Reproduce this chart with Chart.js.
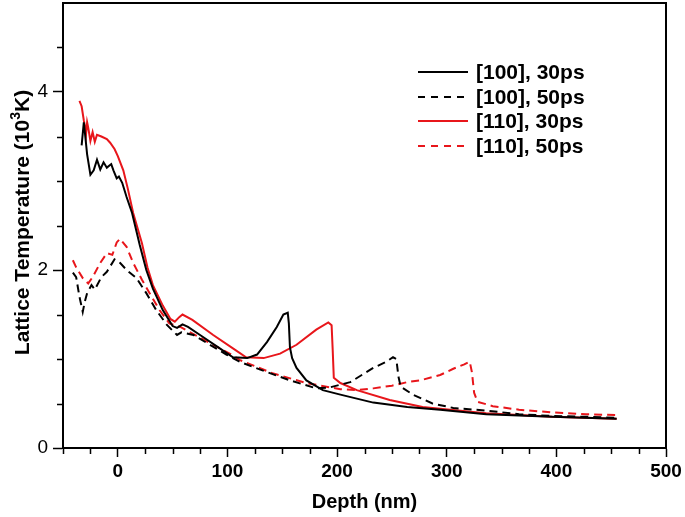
<!DOCTYPE html>
<html>
<head>
<meta charset="utf-8">
<script src="https://cdn.jsdelivr.net/npm/chart.js@4.4.1/dist/chart.umd.min.js"></script>
<style>
html,body{margin:0;padding:0;background:#fff;}
#c{display:block;}
</style>
</head>
<body>
<canvas id="c" width="685" height="517"></canvas>
<script>
// ---- data ----
const seriesLabels = ['[100], 30ps', '[100], 50ps', '[110], 30ps', '[110], 50ps'];

const depth100_30 = [-33,-31,-28,-25,-22,-19,-16,-13,-10,-6,-4,-1,1,4,8,13,20,26,32,41,50,54,59,64,75,93,105,118,127,136,145,151,155,156,157,159,163,172,187,203,233,264,294,336,396,455];
const temp100_30  = [3.40,3.66,3.30,3.07,3.12,3.24,3.13,3.21,3.15,3.19,3.12,3.03,3.05,2.98,2.82,2.64,2.28,2.00,1.79,1.55,1.37,1.35,1.39,1.36,1.27,1.12,1.02,1.01,1.05,1.19,1.36,1.50,1.52,1.40,1.13,1.01,0.90,0.76,0.65,0.60,0.51,0.46,0.43,0.38,0.35,0.33];

const depth100_50 = [-41,-38,-35,-32,-30,-28,-24,-21,-15,-10,-3,2,8,17,26,35,45,54,58,69,84,99,111,130,157,181,193,212,233,245,251,254,256,258,269,287,306,336,366,396,430,455];
const temp100_50  = [1.97,1.92,1.70,1.53,1.65,1.74,1.83,1.78,1.92,1.98,2.12,2.08,2.00,1.91,1.74,1.55,1.38,1.27,1.30,1.27,1.16,1.05,0.97,0.88,0.76,0.67,0.68,0.74,0.90,0.97,1.02,1.00,0.80,0.69,0.60,0.50,0.45,0.42,0.38,0.36,0.35,0.34];

const depth110_30 = [-35,-33,-31,-30,-29,-28,-27,-25,-23,-21,-19,-15,-10,-7,-3,0,5,9,14,22,27,32,41,48,52,56,59,68,87,105,117,133,148,163,181,192,195,196,197,203,218,248,278,294,336,396,455];
const temp110_30  = [3.90,3.84,3.68,3.62,3.52,3.66,3.60,3.45,3.55,3.44,3.52,3.50,3.47,3.43,3.36,3.28,3.12,2.92,2.64,2.30,2.03,1.83,1.60,1.45,1.42,1.47,1.50,1.44,1.27,1.12,1.02,1.01,1.06,1.16,1.33,1.41,1.38,1.10,0.79,0.73,0.65,0.54,0.46,0.44,0.39,0.35,0.33];

const depth110_50 = [-41,-38,-32,-27,-23,-16,-10,-5,-1,2,8,14,22,29,38,47,57,75,90,105,111,141,172,203,218,233,250,264,276,294,306,316,321,323,325,328,342,366,396,427,455];
const temp110_50  = [2.11,2.03,1.91,1.85,1.92,2.08,2.19,2.17,2.31,2.35,2.26,2.08,1.89,1.74,1.55,1.40,1.36,1.24,1.14,1.04,0.99,0.84,0.73,0.66,0.65,0.67,0.70,0.74,0.76,0.82,0.89,0.94,0.97,0.85,0.62,0.52,0.47,0.43,0.40,0.38,0.37];

const xTickValues = [0, 100, 200, 300, 400, 500];
const xMinorValues = [-50, -25, 25, 50, 75, 125, 150, 175, 225, 250, 275, 325, 350, 375, 425, 450, 475];
const yTickValues = [0, 2, 4];
const yMinorValues = [0.5, 1, 1.5, 2.5, 3, 3.5, 4.5];
const xTitle = 'Depth (nm)';
const yTitleParts = ['Lattice Temperature (10', '3', 'K)'];

// ---- styles ----
const RED = '#e8161b';
const BLACK = '#000000';
const FONT = '"Liberation Sans", Arial, sans-serif';

function pts(xs, ys) { return xs.map((x, i) => ({x: x, y: ys[i]})); }

const datasets = [
  {label: seriesLabels[0], data: pts(depth100_30, temp100_30), borderColor: BLACK, borderDash: []},
  {label: seriesLabels[1], data: pts(depth100_50, temp100_50), borderColor: BLACK, borderDash: [8, 5]},
  {label: seriesLabels[2], data: pts(depth110_30, temp110_30), borderColor: RED, borderDash: []},
  {label: seriesLabels[3], data: pts(depth110_50, temp110_50), borderColor: RED, borderDash: [8, 5]}
].map(d => Object.assign(d, {borderWidth: 2, pointRadius: 0, tension: 0, fill: false}));

const decor = {
  id: 'decor',
  afterDraw(chart) {
    const ctx = chart.ctx, a = chart.chartArea;
    const xs = chart.scales.x, ys = chart.scales.y;
    ctx.save();
    // frame (top + right)
    ctx.strokeStyle = '#000';
    ctx.lineWidth = 2;
    ctx.beginPath();
    ctx.moveTo(a.left, a.top); ctx.lineTo(a.right, a.top); ctx.lineTo(a.right, a.bottom);
    ctx.stroke();
    // minor ticks
    ctx.lineWidth = 1.5;
    ctx.beginPath();
    xMinorValues.forEach(v => {
      const px = Math.round(xs.getPixelForValue(v)) + 0.5;
      ctx.moveTo(px, a.bottom); ctx.lineTo(px, a.bottom + 6);
    });
    yMinorValues.forEach(v => {
      const py = Math.round(ys.getPixelForValue(v)) + 0.5;
      ctx.moveTo(a.left, py); ctx.lineTo(a.left - 6, py);
    });
    ctx.stroke();
    // axis titles
    ctx.fillStyle = '#000';
    ctx.textAlign = 'center';
    ctx.textBaseline = 'middle';
    ctx.font = 'bold 20px ' + FONT;
    ctx.fillText(xTitle, (a.left + a.right) / 2, 502);
    // y title with superscript
    ctx.save();
    ctx.translate(21, (a.top + a.bottom) / 2 - 3);
    ctx.rotate(-Math.PI / 2);
    const big = 'bold 21px ' + FONT, small = 'bold 14px ' + FONT;
    ctx.font = big; const w0 = ctx.measureText(yTitleParts[0]).width;
    ctx.font = small; const w1 = ctx.measureText(yTitleParts[1]).width;
    ctx.font = big; const w2 = ctx.measureText(yTitleParts[2]).width;
    let x0 = -(w0 + w1 + w2) / 2;
    ctx.textAlign = 'left';
    ctx.textBaseline = 'alphabetic';
    ctx.font = big; ctx.fillText(yTitleParts[0], x0, 7.5);
    ctx.font = small; ctx.fillText(yTitleParts[1], x0 + w0, -1);
    ctx.font = big; ctx.fillText(yTitleParts[2], x0 + w0 + w1, 7.5);
    ctx.restore();
    // legend
    const rowY = [72, 97, 121, 146];
    ctx.font = 'bold 21px ' + FONT;
    ctx.textAlign = 'left';
    ctx.textBaseline = 'middle';
    chart.data.datasets.forEach((d, i) => {
      ctx.strokeStyle = d.borderColor;
      ctx.lineWidth = 2;
      ctx.setLineDash(d.borderDash.length ? [7, 6] : []);
      ctx.beginPath();
      ctx.moveTo(418, rowY[i]); ctx.lineTo(468, rowY[i]);
      ctx.stroke();
      ctx.setLineDash([]);
      ctx.fillStyle = '#000';
      ctx.fillText(d.label, 476, rowY[i] + 1);
    });
    ctx.restore();
  }
};

new Chart(document.getElementById('c'), {
  type: 'line',
  data: {datasets: datasets},
  options: {
    responsive: false,
    animation: false,
    devicePixelRatio: 1,
    layout: {padding: {top: 3, right: 19, left: 0, bottom: 0}},
    plugins: {legend: {display: false}, tooltip: {enabled: false}},
    scales: {
      x: {
        type: 'linear', min: -50, max: 500,
        afterBuildTicks: s => { s.ticks = xTickValues.map(v => ({value: v})); },
        afterFit: s => { s.height = 69; s.paddingLeft = 0; s.paddingRight = 0; },
        border: {display: true, color: '#000', width: 2},
        grid: {display: true, drawOnChartArea: false, drawTicks: true, tickLength: 9, tickWidth: 1.5, tickColor: '#000'},
        ticks: {color: '#000', padding: 3, maxRotation: 0, font: {family: FONT, size: 19, weight: 'bold'}}
      },
      y: {
        type: 'linear', min: 0, max: 5,
        afterBuildTicks: s => { s.ticks = yTickValues.map(v => ({value: v})); },
        afterFit: s => { s.width = 63; s.paddingTop = 0; s.paddingBottom = 0; },
        border: {display: true, color: '#000', width: 2},
        grid: {display: true, drawOnChartArea: false, drawTicks: true, tickLength: 10, tickWidth: 1.5, tickColor: '#000'},
        ticks: {color: '#000', padding: 5, font: {family: FONT, size: 19, weight: 'normal'}}
      }
    }
  },
  plugins: [decor]
});
</script>
</body>
</html>
